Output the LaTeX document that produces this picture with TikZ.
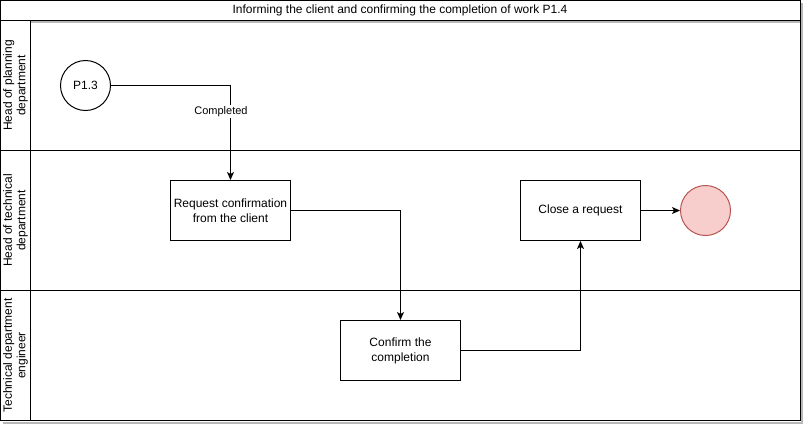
\documentclass[tikz,border=0pt]{standalone}
\usepackage{fontspec}
\setmainfont{Liberation Sans}
\usetikzlibrary{arrows.meta}
\definecolor{endfill}{RGB}{248,206,204}
\definecolor{enddraw}{RGB}{184,84,80}
\begin{document}
\begin{tikzpicture}[x=1pt,y=-1pt, line width=1pt,
  txt/.style={font=\fontsize{12}{13.5}\selectfont, align=center, inner sep=0pt},
  box/.style={draw, fill=white, minimum width=120pt, minimum height=60pt, txt, font=\fontsize{12}{15}\selectfont},
  arr/.style={-{Stealth[length=8pt,width=7pt,inset=2pt]}},
  shadowline/.style={draw=black!28, line width=2pt}]
\useasboundingbox (0,0) rectangle (803,424);
% shadows
\draw[shadowline] (3,422.5) -- (802,422.5) -- (802,3);
\draw[shadowline] (31,22) -- (800,22);
% title
\draw (0.5,0.5) rectangle (800.5,20.5);
\node[txt] (title) at (400,10) {Informing the client and confirming the completion of work P1.4};
% lanes
\draw (0.5,20.5) rectangle (800.5,420.5);
\draw (30.5,20.5) -- (30.5,420.5);
\draw (0.5,150.5) -- (800.5,150.5);
\draw (0.5,290.5) -- (800.5,290.5);
\node[txt, rotate=90] (l1) at (15.5,85.5) {Head of planning\\department};
\node[txt, rotate=90] (l2) at (15.5,220.5) {Head of technical\\department};
\node[txt, rotate=90] (l3) at (15.5,355.5) {Technical department\\engineer};
% nodes
\node[draw, circle, fill=white, minimum size=50pt, txt] (start) at (85.5,85.5) {P1.3};
\node[box] (req) at (230.5,210.5) {Request confirmation\\from the client};
\node[box] (conf) at (400.5,350.5) {Confirm the\\completion};
\node[box] (close) at (580.5,210.5) {Close a request};
\node[draw=enddraw, fill=endfill, circle, minimum size=50pt, inner sep=0pt] (end) at (705.5,210.5) {};
% connectors
\draw[arr] (start.east) -| (req.north);
\node[txt, fill=white, font=\fontsize{11}{12}\selectfont, inner sep=1pt] (lab) at (221,111.5) {Completed};
\draw[arr] (req.east) -| (conf.north);
\draw[arr] (conf.east) -| (close.south);
\draw[arr] (close.east) -- (end.west);
\end{tikzpicture}
\end{document}
